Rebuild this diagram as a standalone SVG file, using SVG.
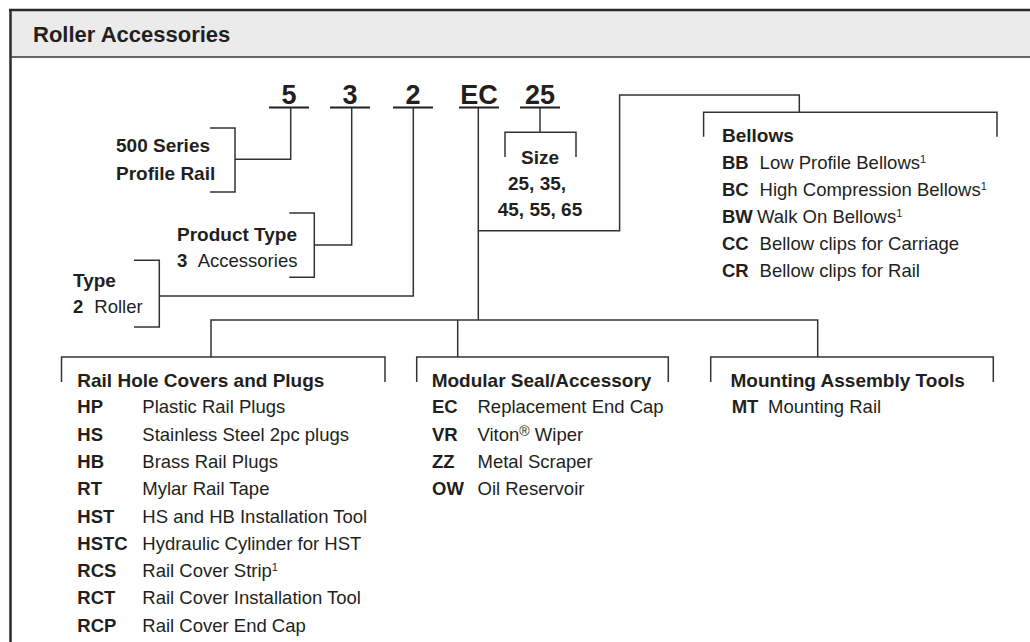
<svg xmlns="http://www.w3.org/2000/svg" width="1030" height="642" viewBox="0 0 1030 642">
<style>
text{font-family:"Liberation Sans",Arial,sans-serif;fill:#231f20}
.t{font-size:22px;font-weight:bold}
.big{font-size:27px;font-weight:bold;text-anchor:middle}
.h{font-size:19px;font-weight:bold}
.c{font-size:18.5px;font-weight:bold}
.d{font-size:18.5px}
.s{font-size:11px}
.r{font-size:14px}
.m{text-anchor:middle}
.ln{fill:none;stroke:#333;stroke-width:1.5}
.ul{stroke:#231f20;stroke-width:2}
</style>
<rect x="0" y="0" width="1030" height="642" fill="#fff"/>
<g id="frame">
<rect x="11" y="11" width="1019" height="46" fill="#ebebeb"/>
<line x1="9" y1="10" x2="1030" y2="10" stroke="#2b2b2b" stroke-width="2.5"/>
<line x1="10.5" y1="9" x2="10.5" y2="642" stroke="#2b2b2b" stroke-width="2.5"/>
<line x1="11" y1="57" x2="1030" y2="57" stroke="#333" stroke-width="1.5"/>
<text class="t" x="33" y="42">Roller Accessories</text>
</g>
<g id="connectors" class="ln">
<path d="M290.7,108 V159.3 H235"/>
<path d="M351.7,108 V245 H314.3"/>
<path d="M413.3,108 V296 H159.3"/>
<path d="M478.3,108 V320"/>
<path d="M211,357 V320 H817.7 V357"/>
<path d="M457.7,320 V357"/>
<path d="M540,108 V132.3"/>
<path d="M478.3,230.7 H619.6 V95 H799.3 V112.3"/>
</g>
<g id="code-5"><text class="big" x="289" y="104">5</text><line class="ul" x1="269" y1="107.5" x2="309" y2="107.5"/></g>
<g id="code-3"><text class="big" x="350" y="104">3</text><line class="ul" x1="330" y1="107.5" x2="370" y2="107.5"/></g>
<g id="code-2"><text class="big" x="413" y="104">2</text><line class="ul" x1="393" y1="107.5" x2="433" y2="107.5"/></g>
<g id="code-EC"><text class="big" x="479" y="104">EC</text><line class="ul" x1="459" y1="107.5" x2="499" y2="107.5"/></g>
<g id="code-25"><text class="big" x="540" y="104">25</text><line class="ul" x1="520" y1="107.5" x2="560" y2="107.5"/></g>
<g id="series">
<path class="ln" d="M210,128 H235 V192 H210"/>
<text class="h" x="116" y="152">500 Series</text>
<text class="h" x="116" y="180">Profile Rail</text>
</g>
<g id="product-type">
<path class="ln" d="M289.3,213 H314.3 V277.3 H289.3"/>
<text class="h" x="177" y="240.7">Product Type</text>
<text y="267.3"><tspan class="c" x="177">3</tspan><tspan class="d" x="197.7">Accessories</tspan></text>
</g>
<g id="type">
<path class="ln" d="M134,260.3 H159.3 V327 H134"/>
<text class="h" x="73" y="286.7">Type</text>
<text y="313.3"><tspan class="c" x="73">2</tspan><tspan class="d" x="94.3">Roller</tspan></text>
</g>
<g id="size">
<path class="ln" d="M505,157 V132.3 H576 V157"/>
<text class="h m" x="540" y="164">Size</text>
<text class="h m" x="537" y="190">25, 35,</text>
<text class="h m" x="540" y="216">45, 55, 65</text>
</g>
<g id="bellows">
<path class="ln" d="M703.6,136.7 V112.3 H997 V136.7"/>
<text class="h" x="722" y="142">Bellows</text>
<text y="169"><tspan class="c" x="722">BB</tspan><tspan class="d" x="759.6">Low Profile Bellows</tspan><tspan class="s" dy="-6">1</tspan></text>
<text y="196"><tspan class="c" x="722">BC</tspan><tspan class="d" x="759.6">High Compression Bellows</tspan><tspan class="s" dy="-6">1</tspan></text>
<text y="223"><tspan class="c" x="722">BW</tspan><tspan class="d" x="757">Walk On Bellows</tspan><tspan class="s" dy="-6">1</tspan></text>
<text y="250"><tspan class="c" x="722">CC</tspan><tspan class="d" x="759.6">Bellow clips for Carriage</tspan></text>
<text y="277"><tspan class="c" x="722">CR</tspan><tspan class="d" x="759.6">Bellow clips for Rail</tspan></text>
</g>
<g id="rail-hole">
<path class="ln" d="M61.5,382 V357 H385 V382"/>
<text class="h" x="77.3" y="387">Rail Hole Covers and Plugs</text>
<text y="413.3"><tspan class="c" x="77.3">HP</tspan><tspan class="d" x="142.3">Plastic Rail Plugs</tspan></text>
<text y="440.6"><tspan class="c" x="77.3">HS</tspan><tspan class="d" x="142.3">Stainless Steel 2pc plugs</tspan></text>
<text y="467.9"><tspan class="c" x="77.3">HB</tspan><tspan class="d" x="142.3">Brass Rail Plugs</tspan></text>
<text y="495.2"><tspan class="c" x="77.3">RT</tspan><tspan class="d" x="142.3">Mylar Rail Tape</tspan></text>
<text y="522.5"><tspan class="c" x="77.3">HST</tspan><tspan class="d" x="142.3">HS and HB Installation Tool</tspan></text>
<text y="549.8"><tspan class="c" x="77.3">HSTC</tspan><tspan class="d" x="142.3">Hydraulic Cylinder for HST</tspan></text>
<text y="577.1"><tspan class="c" x="77.3">RCS</tspan><tspan class="d" x="142.3">Rail Cover Strip</tspan><tspan class="s" dy="-6">1</tspan></text>
<text y="604.4"><tspan class="c" x="77.3">RCT</tspan><tspan class="d" x="142.3">Rail Cover Installation Tool</tspan></text>
<text y="631.7"><tspan class="c" x="77.3">RCP</tspan><tspan class="d" x="142.3">Rail Cover End Cap</tspan></text>
</g>
<g id="modular">
<path class="ln" d="M416.7,382 V357 H668.3 V382"/>
<text class="h" x="431.7" y="387">Modular Seal/Accessory</text>
<text y="413.3"><tspan class="c" x="432">EC</tspan><tspan class="d" x="477.5">Replacement End Cap</tspan></text>
<text y="440.6"><tspan class="c" x="432">VR</tspan><tspan class="d" x="477.5">Viton</tspan><tspan class="r" dy="-5">®</tspan><tspan class="d" dy="5"> Wiper</tspan></text>
<text y="467.9"><tspan class="c" x="432">ZZ</tspan><tspan class="d" x="477.5">Metal Scraper</tspan></text>
<text y="495.2"><tspan class="c" x="432">OW</tspan><tspan class="d" x="477.5">Oil Reservoir</tspan></text>
</g>
<g id="mounting">
<path class="ln" d="M710.7,382 V357 H993.3 V382"/>
<text class="h" x="730.5" y="387">Mounting Assembly Tools</text>
<text y="413.3"><tspan class="c" x="731.7">MT</tspan><tspan class="d" x="768">Mounting Rail</tspan></text>
</g>
</svg>
